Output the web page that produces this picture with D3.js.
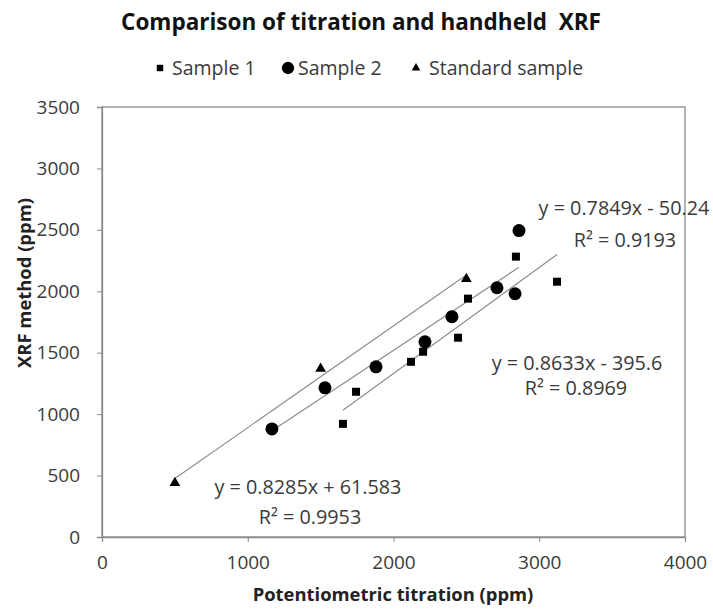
<!DOCTYPE html>
<html>
<head>
<meta charset="utf-8">
<script src="https://cdn.jsdelivr.net/npm/d3@7"></script>
<style>
  html, body { margin: 0; padding: 0; background: #fff; }
  svg { display: block; font-family: "Open Sans", Lato, sans-serif; }
</style>
</head>
<body>
<svg id="chart" width="713" height="613"></svg>
<script>
// ---- data ----
const sample1X = [1653, 1743, 2120, 2203, 2443, 2511, 2840, 3122];
const sample1Y = [921, 1182, 1426, 1508, 1622, 1940, 2282, 2078];
const sample2X = [1166, 1530, 1880, 2216, 2401, 2710, 2834, 2861];
const sample2Y = [880, 1214, 1385, 1589, 1793, 2029, 1980, 2494];
const standardX = [500, 1500, 2500];
const standardY = [440, 1370, 2100];
const seriesNames = ["Sample 1", "Sample 2", "Standard sample"];
const trendSlopes = [0.8633, 0.7849, 0.8285];
const trendIntercepts = [-395.6, -50.24, 61.583];
const trendEquations = ["y = 0.8633x - 395.6", "y = 0.7849x - 50.24", "y = 0.8285x + 61.583"];
const trendR2 = ["R\u00B2 = 0.8969", "R\u00B2 = 0.9193", "R\u00B2 = 0.9953"];
const xTicks = [0, 1000, 2000, 3000, 4000];
const yTicks = [0, 500, 1000, 1500, 2000, 2500, 3000, 3500];

(function () {
const series = [
  { name: seriesNames[0], xs: sample1X, ys: sample1Y, shape: "square" },
  { name: seriesNames[1], xs: sample2X, ys: sample2Y, shape: "circle" },
  { name: seriesNames[2], xs: standardX, ys: standardY, shape: "triangle" }
];

// ---- layout ----
const svg = d3.select("#chart");
const pL = 102, pR = 685, pT = 107, pB = 537;
const x = d3.scaleLinear().domain([0, 4000]).range([pL, pR]);
const y = d3.scaleLinear().domain([0, 3500]).range([pB, pT]);
const axisColor = "#8a8a8a";
const textColor = "#3a3a3a";
const fontFam = "'Open Sans', Lato, sans-serif";

// plot border
svg.append("rect").attr("x", pL).attr("y", pT)
  .attr("width", pR - pL).attr("height", pB - pT)
  .attr("fill", "none").attr("stroke", axisColor).attr("stroke-width", 1.3);

// axes
const xAxis = svg.append("g").attr("transform", `translate(0,${pB})`)
  .call(d3.axisBottom(x).tickValues(xTicks).tickSize(5).tickPadding(14).tickFormat(d3.format("d")));
const yAxis = svg.append("g").attr("transform", `translate(${pL},0)`)
  .call(d3.axisLeft(y).tickValues(yTicks).tickSize(5).tickPadding(17).tickFormat(d3.format("d")));
[xAxis, yAxis].forEach(g => {
  g.select(".domain").attr("stroke", axisColor).attr("stroke-width", 1.3);
  g.selectAll(".tick line").attr("stroke", axisColor);
  g.selectAll(".tick text").attr("fill", textColor).attr("font-size", 19)
    .attr("font-family", fontFam);
});

// title
svg.append("text").attr("x", 361).attr("y", 30).attr("text-anchor", "middle")
  .attr("font-size", 22.5).attr("font-weight", "bold").attr("fill", "#111")
  .style("white-space", "pre")
  .text("Comparison of titration and handheld  XRF");

// axis titles
svg.append("text").attr("x", 393).attr("y", 601).attr("text-anchor", "middle")
  .attr("font-size", 18.4).attr("font-weight", "bold").attr("fill", "#222")
  .text("Potentiometric titration (ppm)");
svg.append("text").attr("transform", `translate(31,283) rotate(-90)`)
  .attr("text-anchor", "middle").attr("font-size", 18.4).attr("font-weight", "bold").attr("fill", "#222")
  .text("XRF method (ppm)");

// marker drawing
function drawMarker(g, shape, cx, cy, scale) {
  const s = scale || 1;
  if (shape === "square") {
    g.append("rect").attr("x", cx - 4 * s).attr("y", cy - 4 * s)
      .attr("width", 8 * s).attr("height", 8 * s).attr("fill", "#000");
  } else if (shape === "circle") {
    g.append("circle").attr("cx", cx).attr("cy", cy).attr("r", 6.5 * s).attr("fill", "#000");
  } else {
    g.append("path").attr("d", d3.symbol().type(d3.symbolTriangle).size(50 * s * s)())
      .attr("transform", `translate(${cx},${cy})`).attr("fill", "#000");
  }
}

// trend lines
series.forEach((s, i) => {
  const [x0, x1] = d3.extent(s.xs);
  svg.append("line")
    .attr("x1", x(x0)).attr("y1", y(trendSlopes[i] * x0 + trendIntercepts[i]))
    .attr("x2", x(x1)).attr("y2", y(trendSlopes[i] * x1 + trendIntercepts[i]))
    .attr("stroke", "#8c8c8c").attr("stroke-width", 1.2);
});

// points
const pts = svg.append("g");
series.forEach(s => {
  s.xs.forEach((xv, j) => drawMarker(pts, s.shape, x(xv), y(s.ys[j])));
});

// trend labels (anchored in data space)
const labelAnchors = [
  { eqX: 3259, eqY: 1359, r2X: 3252, r2Y: 1156 },
  { eqX: 3581, eqY: 2621, r2X: 3588, r2Y: 2360 },
  { eqX: 1413, eqY: 350, r2X: 1427, r2Y: 106 }
];
series.forEach((s, i) => {
  const a = labelAnchors[i];
  svg.append("text").attr("x", x(a.eqX)).attr("y", y(a.eqY)).attr("text-anchor", "middle")
    .attr("font-size", 19.8).attr("fill", textColor).style("white-space", "pre").text(trendEquations[i]);
  svg.append("text").attr("x", x(a.r2X)).attr("y", y(a.r2Y)).attr("text-anchor", "middle")
    .attr("font-size", 19.8).attr("fill", textColor).text(trendR2[i]);
});

// legend
const legendItems = [
  { mx: 160, tx: 172 },
  { mx: 288, tx: 298 },
  { mx: 416, tx: 429 }
];
const lg = svg.append("g");
series.forEach((s, i) => {
  drawMarker(lg, s.shape, legendItems[i].mx, 68, s.shape === "circle" ? 0.95 : 0.8);
  lg.append("text").attr("x", legendItems[i].tx).attr("y", 75)
    .attr("font-size", 19.5).attr("fill", textColor).text(s.name);
});
})();
</script>
</body>
</html>
